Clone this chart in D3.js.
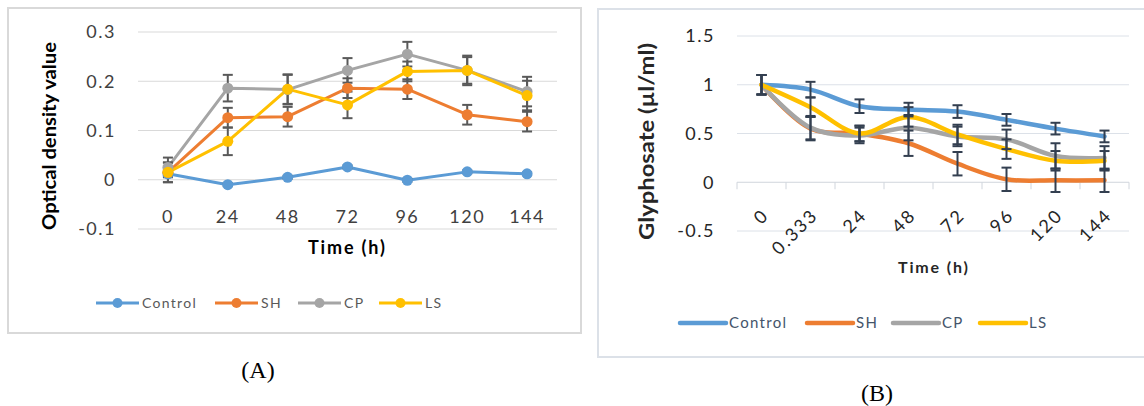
<!DOCTYPE html>
<html>
<head>
<meta charset="utf-8">
<script src="https://cdn.jsdelivr.net/npm/d3@7"></script>
<style>
  body { margin: 0; background: #fff; }
  svg { display: block; font-family: Lato, "Noto Sans", sans-serif; }
</style>
</head>
<body>
<svg id="chart" width="1144" height="406"></svg>
<script>
// ---------------- data: panel A (optical density) ----------------
const timesA = ['0', '24', '48', '72', '96', '120', '144'];
const ticksA = [0.3, 0.2, 0.1, 0, -0.1];
const controlA = [0.012, -0.01, 0.005, 0.026, -0.001, 0.016, 0.012];
const shA      = [0.015, 0.126, 0.128, 0.186, 0.184, 0.132, 0.118];
const cpA      = [0.025, 0.186, 0.183, 0.222, 0.255, 0.222, 0.179];
const lsA      = [0.015, 0.078, 0.184, 0.152, 0.220, 0.222, 0.171];
const controlErrA = [0.004, 0.003, 0.003, 0.003, 0.003, 0.003, 0.003];
const shErrA      = [0.02, 0.02, 0.02, 0.02, 0.02, 0.02, 0.02];
const cpErrA      = [0.02, 0.027, 0.03, 0.025, 0.025, 0.027, 0.03];
const lsErrA      = [0.02, 0.028, 0.03, 0.027, 0.02, 0.03, 0.03];

// ---------------- data: panel B (glyphosate) ----------------
const timesB = ['0', '0.333', '24', '48', '72', '96', '120', '144'];
const ticksB = [1.5, 1, 0.5, 0, -0.5];
const controlB = [1.0, 0.95, 0.78, 0.745, 0.725, 0.64, 0.55, 0.47];
const shB      = [1.0, 0.55, 0.5, 0.4, 0.19, 0.03, 0.02, 0.02];
const cpB      = [1.0, 0.56, 0.48, 0.56, 0.47, 0.44, 0.27, 0.25];
const lsB      = [1.0, 0.77, 0.5, 0.67, 0.49, 0.34, 0.22, 0.22];
const controlErrB = [0.1, 0.08, 0.07, 0.07, 0.065, 0.06, 0.06, 0.06];
const shErrB      = [0.1, 0.12, 0.08, 0.13, 0.12, 0.12, 0.12, 0.12];
const cpErrB      = [0.1, 0.12, 0.08, 0.13, 0.1, 0.1, 0.13, 0.12];
const lsErrB      = [0.1, 0.1, 0.08, 0.1, 0.1, 0.1, 0.1, 0.1];

const names = ['Control', 'SH', 'CP', 'LS'];
const colors = ['#5B9BD5', '#ED7D31', '#A5A5A5', '#FFC000'];

const svg = d3.select('#chart');

// draws a vertical error bar with caps into group eg
function errorBar(eg, px, lo, hi) {
    eg.append('line').attr('x1', px).attr('x2', px).attr('y1', lo).attr('y2', hi);
    eg.append('line').attr('x1', px - 5).attr('x2', px + 5).attr('y1', lo).attr('y2', lo);
    eg.append('line').attr('x1', px - 5).attr('x2', px + 5).attr('y1', hi).attr('y2', hi);
}

// -------------------------------------------------------------------------
// Panel A
// -------------------------------------------------------------------------
function drawA() {
    const g = svg.append('g');
    g.append('rect')
        .attr('x', 8).attr('y', 8).attr('width', 573).attr('height', 325)
        .attr('fill', 'none').attr('stroke', '#D9D9D9').attr('stroke-width', 2);

    const x = d3.scalePoint(timesA, [138, 557]).padding(0.5);
    const y = d3.scaleLinear([-0.1, 0.3], [229, 32]);

    g.selectAll('.grid').data(ticksA).enter().append('line')
        .attr('x1', 138).attr('x2', 557)
        .attr('y1', d => y(d)).attr('y2', d => y(d))
        .attr('stroke', '#D9D9D9').attr('stroke-width', 1);

    g.selectAll('.ytick').data(ticksA).enter().append('text')
        .attr('x', 116).attr('y', d => y(d)).attr('dy', '0.35em')
        .attr('text-anchor', 'end').attr('font-size', 18).attr('letter-spacing', 1.5)
        .attr('fill', '#404040')
        .text(d => String(d));

    g.selectAll('.xtick').data(timesA).enter().append('text')
        .attr('x', d => x(d)).attr('y', 217).attr('dy', '0.35em')
        .attr('text-anchor', 'middle').attr('font-size', 18).attr('letter-spacing', 1.5)
        .attr('fill', '#404040')
        .text(d => d);

    g.append('text').attr('x', 308).attr('y', 248).attr('dy', '0.35em')
        .attr('font-size', 18).attr('font-weight', 'bold')
        .attr('textLength', 77).attr('lengthAdjust', 'spacing')
        .text('Time (h)');
    g.append('text')
        .attr('transform', 'translate(50,230) rotate(-90)').attr('dy', '0.35em')
        .attr('font-size', 18).attr('font-weight', 'bold')
        .attr('textLength', 188).attr('lengthAdjust', 'spacingAndGlyphs')
        .text('Optical density value');

    const series = [controlA, shA, cpA, lsA];
    const errs = [controlErrA, shErrA, cpErrA, lsErrA];
    const line = d3.line().x((d, i) => x(timesA[i])).y(d => y(d));

    series.forEach((s, k) => {
        g.append('path').attr('d', line(s)).attr('fill', 'none')
            .attr('stroke', colors[k]).attr('stroke-width', 3).attr('stroke-linejoin', 'round');
    });
    series.forEach((s, k) => {
        const eg = g.append('g').attr('stroke', '#595959').attr('stroke-width', 2);
        s.forEach((v, i) => errorBar(eg, x(timesA[i]), y(v - errs[k][i]), y(v + errs[k][i])));
    });
    series.forEach((s, k) => {
        g.selectAll(null).data(s).enter().append('circle')
            .attr('cx', (d, i) => x(timesA[i])).attr('cy', d => y(d))
            .attr('r', 5.5).attr('fill', colors[k]);
    });

    // legend
    const legX = [96, 215, 298, 379];
    names.forEach((n, k) => {
        const lg = g.append('g').attr('transform', `translate(${legX[k]},303)`);
        lg.append('line').attr('x1', 0).attr('x2', 43).attr('stroke', colors[k]).attr('stroke-width', 3);
        lg.append('circle').attr('cx', 21.5).attr('r', 5).attr('fill', colors[k]);
        lg.append('text').attr('x', 46).attr('dy', '0.35em').attr('font-size', 14)
            .attr('letter-spacing', 1.3).attr('fill', '#595959').text(n);
    });

    g.append('text').attr('x', 258).attr('y', 370).attr('dy', '0.35em')
        .attr('text-anchor', 'middle').attr('font-size', 24)
        .attr('font-family', '"Liberation Serif", "DejaVu Serif", serif')
        .text('(A)');
}

// -------------------------------------------------------------------------
// Panel B
// -------------------------------------------------------------------------
function drawB() {
    const g = svg.append('g');
    g.append('rect')
        .attr('x', 598).attr('y', 9).attr('width', 560).attr('height', 348)
        .attr('fill', 'none').attr('stroke', '#DCE1E8').attr('stroke-width', 2);

    const x = d3.scaleBand(timesB, [737, 1129]);
    const cx = d => x(d) + x.bandwidth() / 2;
    const y = d3.scaleLinear([-0.5, 1.5], [231, 36]);

    g.selectAll('.grid').data(ticksB).enter().append('line')
        .attr('x1', 737).attr('x2', 1129)
        .attr('y1', d => y(d)).attr('y2', d => y(d))
        .attr('stroke', d => d === 0 ? '#D0D5DC' : '#DCE1E8').attr('stroke-width', 1);

    // category tick marks on the zero axis
    g.selectAll('.xtickmark').data(timesB.concat(['end'])).enter().append('line')
        .attr('x1', (d, i) => 737 + i * x.step()).attr('x2', (d, i) => 737 + i * x.step())
        .attr('y1', y(0)).attr('y2', y(0) + 7)
        .attr('stroke', '#D0D5DC').attr('stroke-width', 1);

    g.selectAll('.ytick').data(ticksB).enter().append('text')
        .attr('x', 715).attr('y', d => y(d)).attr('dy', '0.35em')
        .attr('text-anchor', 'end').attr('font-size', 18).attr('letter-spacing', 1.5)
        .attr('fill', '#262626')
        .text(d => String(d));

    g.selectAll('.xtick').data(timesB).enter().append('text')
        .attr('transform', d => `translate(${cx(d) + 4},212) rotate(-45)`)
        .attr('dy', '0.35em').attr('text-anchor', 'end')
        .attr('font-size', 18).attr('letter-spacing', 2).attr('fill', '#262626')
        .text(d => d);

    g.append('text').attr('x', 898).attr('y', 267).attr('dy', '0.35em')
        .attr('font-size', 16).attr('font-weight', 'bold')
        .attr('textLength', 70).attr('lengthAdjust', 'spacing')
        .attr('fill', '#262626').text('Time (h)');
    g.append('text')
        .attr('transform', 'translate(647,240) rotate(-90)').attr('dy', '0.35em')
        .attr('font-size', 20).attr('font-weight', 'bold')
        .attr('textLength', 197).attr('lengthAdjust', 'spacingAndGlyphs')
        .attr('fill', '#262626').text('Glyphosate (µl/ml)');

    const series = [controlB, shB, cpB, lsB];
    const errs = [controlErrB, shErrB, cpErrB, lsErrB];
    const line = d3.line().x((d, i) => cx(timesB[i])).y(d => y(d)).curve(d3.curveCatmullRom.alpha(0.5));

    series.forEach((s, k) => {
        g.append('path').attr('d', line(s)).attr('fill', 'none')
            .attr('stroke', colors[k]).attr('stroke-width', 4.5)
            .attr('stroke-linejoin', 'round').attr('stroke-linecap', 'round');
    });
    series.forEach((s, k) => {
        const eg = g.append('g').attr('stroke', '#333F50').attr('stroke-width', 2);
        s.forEach((v, i) => errorBar(eg, cx(timesB[i]), y(v - errs[k][i]), y(v + errs[k][i])));
    });

    // legend
    const legX = [680, 807, 893, 980];
    names.forEach((n, k) => {
        const lg = g.append('g').attr('transform', `translate(${legX[k]},323)`);
        lg.append('line').attr('x1', 0).attr('x2', 46).attr('stroke', colors[k])
            .attr('stroke-width', 4.5).attr('stroke-linecap', 'round');
        lg.append('text').attr('x', 49).attr('dy', '0.35em').attr('font-size', 15)
            .attr('letter-spacing', 1.3).attr('fill', '#44546A').text(n);
    });

    g.append('text').attr('x', 877).attr('y', 393).attr('dy', '0.35em')
        .attr('text-anchor', 'middle').attr('font-size', 24)
        .attr('font-family', '"Liberation Serif", "DejaVu Serif", serif')
        .text('(B)');
}

drawA();
drawB();
</script>
</body>
</html>
